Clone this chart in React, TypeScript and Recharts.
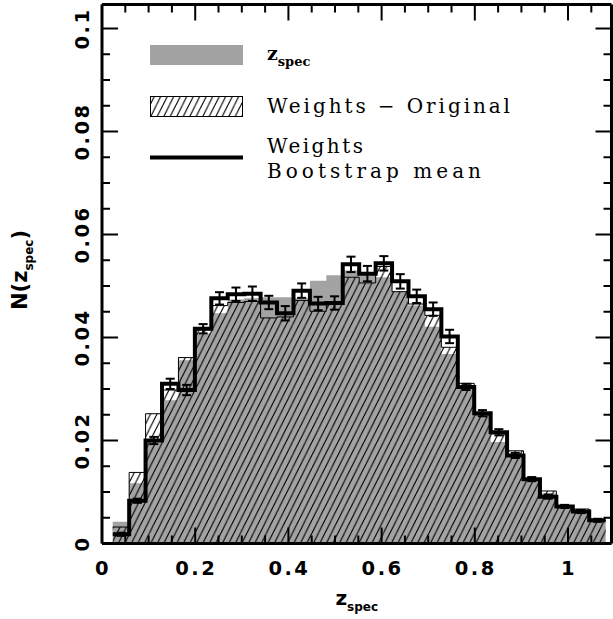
import React from "react";
import {
  ComposedChart, Area, Line, Scatter, ErrorBar, XAxis, YAxis, Legend, Label,
} from "recharts";

// histogram bin edges in z_spec (30 bins)
const binEdges = [
  0.023, 0.0583, 0.0935, 0.1288, 0.164, 0.1993, 0.2346, 0.2698, 0.3051, 0.3403,
  0.3756, 0.4109, 0.4461, 0.4814, 0.5166, 0.5519, 0.5872, 0.6224, 0.6577, 0.6929,
  0.7282, 0.7635, 0.7987, 0.834, 0.8692, 0.9045, 0.9398, 0.975, 1.0103, 1.0455, 1.0808,
];

// spectroscopic redshift distribution (grey)
const zspec = [
  0.0042, 0.0117, 0.0198, 0.0278, 0.0356, 0.0408, 0.0447, 0.0474, 0.0476, 0.0478,
  0.0478, 0.0476, 0.051, 0.0521, 0.053, 0.0522, 0.0517, 0.0489, 0.0462, 0.0421,
  0.0368, 0.0307, 0.025, 0.0197, 0.0168, 0.0122, 0.0097, 0.0071, 0.006, 0.0045,
];

// weights - original (hatched)
const weightsOriginal = [
  0.0032, 0.0138, 0.0252, 0.0298, 0.0361, 0.0415, 0.0462, 0.0468, 0.047, 0.0438,
  0.044, 0.0472, 0.0451, 0.0464, 0.0517, 0.0506, 0.0538, 0.0489, 0.0465, 0.0443,
  0.0381, 0.0311, 0.025, 0.0213, 0.018, 0.0124, 0.0102, 0.0071, 0.0067, 0.0045,
];

// weights - bootstrap mean (thick line) and its error
const bootstrapMean = [
  0.0018, 0.0083, 0.02, 0.031, 0.0298, 0.0417, 0.0476, 0.0484, 0.0485, 0.0468,
  0.0447, 0.0491, 0.0466, 0.0467, 0.0542, 0.0524, 0.0544, 0.0509, 0.048, 0.0455,
  0.0402, 0.0304, 0.0253, 0.0216, 0.0171, 0.0125, 0.0091, 0.0072, 0.0062, 0.0045,
];
const bootstrapErr = [
  0.0003, 0.0004, 0.0007, 0.001, 0.001, 0.0009, 0.0012, 0.0013, 0.0014, 0.0013,
  0.0014, 0.0014, 0.0013, 0.0013, 0.0015, 0.0015, 0.0014, 0.0014, 0.0013, 0.0013,
  0.0013, 0.0006, 0.0006, 0.0006, 0.0005, 0.0004, 0.0004, 0.0003, 0.0003, 0.0003,
];

const xTicks = [
  0, 0.05, 0.1, 0.15, 0.2, 0.25, 0.3, 0.35, 0.4, 0.45, 0.5, 0.55,
  0.6, 0.65, 0.7, 0.75, 0.8, 0.85, 0.9, 0.95, 1, 1.05,
];
const xLabels = [0, 0.2, 0.4, 0.6, 0.8, 1];
const yTicks = [
  0, 0.005, 0.01, 0.015, 0.02, 0.025, 0.03, 0.035, 0.04, 0.045, 0.05,
  0.055, 0.06, 0.065, 0.07, 0.075, 0.08, 0.085, 0.09, 0.095, 0.1,
];
const yLabels = [0, 0.02, 0.04, 0.06, 0.08, 0.1];

const X_DOMAIN: [number, number] = [0, 1.0933];
const Y_DOMAIN: [number, number] = [0, 0.10466];
const GREY = "#a3a3a3";
const TICK_FONT = "'DejaVu Sans', sans-serif";
const LEGEND_FONT = "'DejaVu Serif', serif";

const last = bootstrapMean.length - 1;
const stepRows = binEdges.map((x, i) => ({
  x,
  zspec: zspec[Math.min(i, last)],
  orig: weightsOriginal[Math.min(i, last)],
  boot: bootstrapMean[Math.min(i, last)],
}));
const centers = bootstrapMean.map((v, i) => ({
  x: (binEdges[i] + binEdges[i + 1]) / 2,
  boot: v,
  err: bootstrapErr[i],
}));

const isMajor = (v: number, majors: number[]) => majors.some((m) => Math.abs(m - v) < 1e-9);

const tickText = {
  fontFamily: TICK_FONT,
  fontWeight: 700,
  fontSize: 19.5,
  letterSpacing: 2.5,
  fill: "#000",
};

function BottomTick(props: any) {
  const { x, y, payload } = props;
  const major = isMajor(payload.value, xLabels);
  return (
    <g>
      <line x1={x} y1={y} x2={x} y2={y - (major ? 16 : 8)} stroke="#000" strokeWidth={2} />
      {major && (
        <text x={x + 1} y={y + 31} textAnchor="middle" {...tickText}>
          {String(payload.value)}
        </text>
      )}
    </g>
  );
}

function TopTick(props: any) {
  const { x, y, payload } = props;
  const major = isMajor(payload.value, xLabels);
  return <line x1={x} y1={y} x2={x} y2={y + (major ? 16 : 8)} stroke="#000" strokeWidth={2} />;
}

function LeftTick(props: any) {
  const { x, y, payload } = props;
  const major = isMajor(payload.value, yLabels);
  const lx = x - 14;
  return (
    <g>
      <line x1={x} y1={y} x2={x + (major ? 16 : 8)} y2={y} stroke="#000" strokeWidth={2} />
      {major && (
        <text x={lx} y={y + 1} textAnchor="middle" transform={`rotate(-90, ${lx}, ${y})`} {...tickText}>
          {String(payload.value)}
        </text>
      )}
    </g>
  );
}

function RightTick(props: any) {
  const { x, y, payload } = props;
  const major = isMajor(payload.value, yLabels);
  return <line x1={x} y1={y} x2={x - (major ? 16 : 8)} y2={y} stroke="#000" strokeWidth={2} />;
}

function XTitle({ viewBox }: any) {
  const cx = viewBox.x + viewBox.width / 2;
  return (
    <text x={cx} y={viewBox.y + 61} textAnchor="middle" fontFamily={TICK_FONT} fontWeight={700} fontSize={20} fill="#000">
      z<tspan fontSize={12} dy={6}>spec</tspan>
    </text>
  );
}

function YTitle({ viewBox }: any) {
  const bx = viewBox.x + viewBox.width - 75;
  const cy = viewBox.y + viewBox.height / 2 - 4;
  return (
    <text x={bx} y={cy} textAnchor="middle" transform={`rotate(-90, ${bx}, ${cy})`} fontFamily={TICK_FONT} fontWeight={700} fontSize={21} fill="#000">
      N(z<tspan fontSize={12} dy={6}>spec</tspan><tspan dy={-6}>)</tspan>
    </text>
  );
}

function LegendBox() {
  return (
    <svg width={400} height={150} style={{ display: "block" }}>
      <defs>
        <pattern id="hatchLegend" patternUnits="userSpaceOnUse" width={6.5} height={13}>
          <path d="M-6.5,13 L0,0 M0,13 L6.5,0 M6.5,13 L13,0" stroke="#000" strokeWidth={1.1} />
        </pattern>
      </defs>
      <rect x={0} y={5} width={93} height={20} fill={GREY} />
      <text x={117} y={20} fontFamily={LEGEND_FONT} fontWeight={700} fontSize={19} fill="#000">
        z<tspan fontSize={13} dy={6}>spec</tspan>
      </text>
      <rect x={0.5} y={56.5} width={92} height={20} fill="url(#hatchLegend)" stroke="#000" strokeWidth={1} />
      <text x={117} y={73} fontFamily={LEGEND_FONT} fontSize={20} fill="#000" textLength={243} lengthAdjust="spacing">
        Weights − Original
      </text>
      <line x1={0} y1={117.5} x2={93} y2={117.5} stroke="#000" strokeWidth={4} />
      <text x={117} y={113} fontFamily={LEGEND_FONT} fontSize={20} fill="#000" textLength={96} lengthAdjust="spacing">
        Weights
      </text>
      <text x={117} y={138} fontFamily={LEGEND_FONT} fontSize={20} fill="#000" textLength={214} lengthAdjust="spacing">
        Bootstrap mean
      </text>
    </svg>
  );
}

export default function App() {
  return (
    <div style={{ position: "absolute", left: 0, top: 0, width: 613, height: 619, background: "#fff" }}>
      <ComposedChart
        width={613}
        height={619}
        data={stepRows}
        margin={{ top: 3.5, right: 0.5, bottom: 74.5, left: 101 }}
      >
        <defs>
          <pattern id="hatch" patternUnits="userSpaceOnUse" width={6.5} height={13}>
            <path d="M-6.5,13 L0,0 M0,13 L6.5,0 M6.5,13 L13,0" stroke="#000" strokeWidth={1.1} />
          </pattern>
        </defs>
        <Area
          type="stepAfter"
          dataKey="zspec"
          name="zspec"
          fill={GREY}
          fillOpacity={1}
          stroke="none"
          isAnimationActive={false}
        />
        <Area
          type="stepAfter"
          dataKey="orig"
          name="Weights - Original"
          fill="url(#hatch)"
          fillOpacity={1}
          stroke="#000"
          strokeWidth={1}
          isAnimationActive={false}
        />
        <Line
          type="stepAfter"
          dataKey="boot"
          name="Weights Bootstrap mean"
          stroke="#000"
          strokeWidth={4}
          dot={false}
          isAnimationActive={false}
        />
        {/* invisible copy so the mirrored top/right axes get a numeric scale */}
        <Line
          xAxisId="top"
          yAxisId="right"
          dataKey="boot"
          stroke="none"
          dot={false}
          activeDot={false}
          legendType="none"
          isAnimationActive={false}
        />
        <Scatter data={centers} dataKey="boot" shape={() => <g />} isAnimationActive={false} legendType="none">
          <ErrorBar dataKey="err" direction="y" width={4.5} strokeWidth={2} stroke="#000" isAnimationActive={false} />
        </Scatter>
        <XAxis
          dataKey="x"
          type="number"
          domain={X_DOMAIN}
          allowDataOverflow
          ticks={xTicks}
          interval={0}
          height={1}
          tickSize={0}
          tickMargin={0}
          tickLine={false}
          tick={<BottomTick />}
          axisLine={{ stroke: "#000", strokeWidth: 3 }}
        >
          <Label content={<XTitle />} />
        </XAxis>
        <XAxis
          xAxisId="top"
          orientation="top"
          dataKey="x"
          type="number"
          domain={X_DOMAIN}
          allowDataOverflow
          ticks={xTicks}
          interval={0}
          height={1}
          tickSize={0}
          tickMargin={0}
          tickLine={false}
          tick={<TopTick />}
          axisLine={{ stroke: "#000", strokeWidth: 3 }}
        />
        <YAxis
          type="number"
          domain={Y_DOMAIN}
          allowDataOverflow
          ticks={yTicks}
          interval={0}
          width={1}
          tickSize={0}
          tickMargin={0}
          tickLine={false}
          tick={<LeftTick />}
          axisLine={{ stroke: "#000", strokeWidth: 3 }}
        >
          <Label content={<YTitle />} />
        </YAxis>
        <YAxis
          yAxisId="right"
          orientation="right"
          type="number"
          domain={Y_DOMAIN}
          allowDataOverflow
          ticks={yTicks}
          interval={0}
          width={1}
          tickSize={0}
          tickMargin={0}
          tickLine={false}
          tick={<RightTick />}
          axisLine={{ stroke: "#000", strokeWidth: 3 }}
        />
        <Legend
          layout="vertical"
          align="center"
          verticalAlign="middle"
          wrapperStyle={{ left: 150, top: 40, width: 400, height: 150 }}
          content={() => <LegendBox />}
        />
      </ComposedChart>
    </div>
  );
}
